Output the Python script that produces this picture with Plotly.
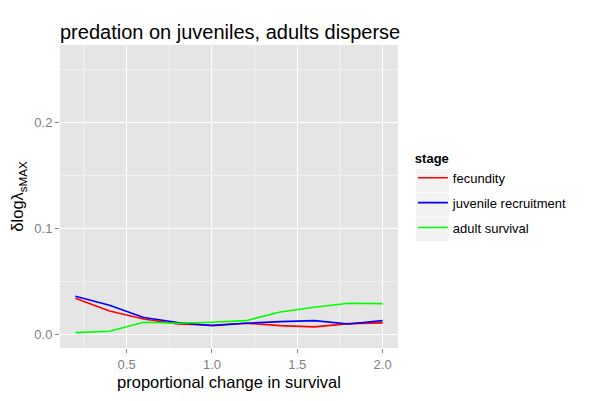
import plotly.graph_objects as go

# proportional change in survival
change = [0.2, 0.4, 0.6, 0.8, 1.0, 1.2, 1.4, 1.6, 1.8, 2.0]

# delta log lambda sMAX per stage
fecundity = [0.0340, 0.0220, 0.0144, 0.0097, 0.0085, 0.0104, 0.0081, 0.0069, 0.0100, 0.0107]
juvenile_recruitment = [0.0358, 0.0273, 0.0157, 0.0110, 0.0081, 0.0104, 0.0119, 0.0128, 0.0097, 0.0128]
adult_survival = [0.0015, 0.0028, 0.0113, 0.0104, 0.0113, 0.0128, 0.0210, 0.0255, 0.0292, 0.0289]

stages = ['fecundity', 'juvenile recruitment', 'adult survival']
colors = ['#FF0000', '#0000FF', '#00FF00']
series = [fecundity, juvenile_recruitment, adult_survival]

font = 'Liberation Sans, Arial, Helvetica, sans-serif'

fig = go.Figure()
for name, col, vals in zip(stages, colors, series):
    fig.add_trace(go.Scatter(
        x=change, y=vals, name=name, mode='lines', legendgroup=name,
        line=dict(color=col, width=1.6),
    ))

axis_common = dict(
    showgrid=True, gridcolor='white', gridwidth=1.2,
    zeroline=False, showline=False, automargin=False,
    ticks='outside', ticklen=4, tickcolor='#7f7f7f', tickwidth=1,
    tickfont=dict(family=font, size=13, color='#7f7f7f'),
)

# page body adds ~8px offset, margins are trimmed to compensate
L, T, PW, PH = 52, 37, 338, 303

# light grey key backgrounds behind the legend symbols (ggplot style)
key_shapes = []
for i in range(len(stages)):
    cy = 180.5 - 8 + 24.5 * i
    key_shapes.append(dict(
        type='rect', xref='paper', yref='paper', layer='below',
        x0=(408 - L) / PW, x1=(441 - L) / PW,
        y0=1 - (cy + 11.7 - T) / PH, y1=1 - (cy - 11.7 - T) / PH,
        fillcolor='#F2F2F2', line=dict(width=0),
    ))

fig.update_layout(
    width=601, height=401,
    margin=dict(l=L, r=601 - L - PW, t=T, b=401 - T - PH),
    paper_bgcolor='white',
    plot_bgcolor='#E5E5E5',
    font=dict(family=font, color='black'),
    title=dict(
        text='predation on juveniles, adults disperse',
        font=dict(size=20, color='black'),
        x=0, xref='paper', xanchor='left',
        y=1 - 24 / 401, yref='container', yanchor='middle',
    ),
    legend=dict(
        title=dict(text='<b>stage</b>', font=dict(size=13)),
        font=dict(size=13),
        x=1.044, xanchor='left', y=0.667, yanchor='top',
        bgcolor='rgba(0,0,0,0)',
        itemwidth=30,
        tracegroupgap=5,
    ),
    shapes=key_shapes,
)

fig.update_xaxes(
    range=[0.11, 2.09], tick0=0.5, dtick=0.5, tickformat='.1f',
    minor=dict(tick0=0.25, dtick=0.5, showgrid=True, gridcolor='#F2F2F2', gridwidth=1, ticks=''),
    title=dict(text='proportional change in survival', font=dict(size=16.5), standoff=5),
    **axis_common,
)
fig.update_yaxes(
    range=[-0.013, 0.273], tick0=0, dtick=0.1, tickformat='.1f',
    minor=dict(tick0=0.05, dtick=0.1, showgrid=True, gridcolor='#F2F2F2', gridwidth=1, ticks=''),
    title=dict(text='δlogλ<sub>sMAX</sub>', font=dict(size=16.5), standoff=6),
    **axis_common,
)

fig.write_html('out.html')
